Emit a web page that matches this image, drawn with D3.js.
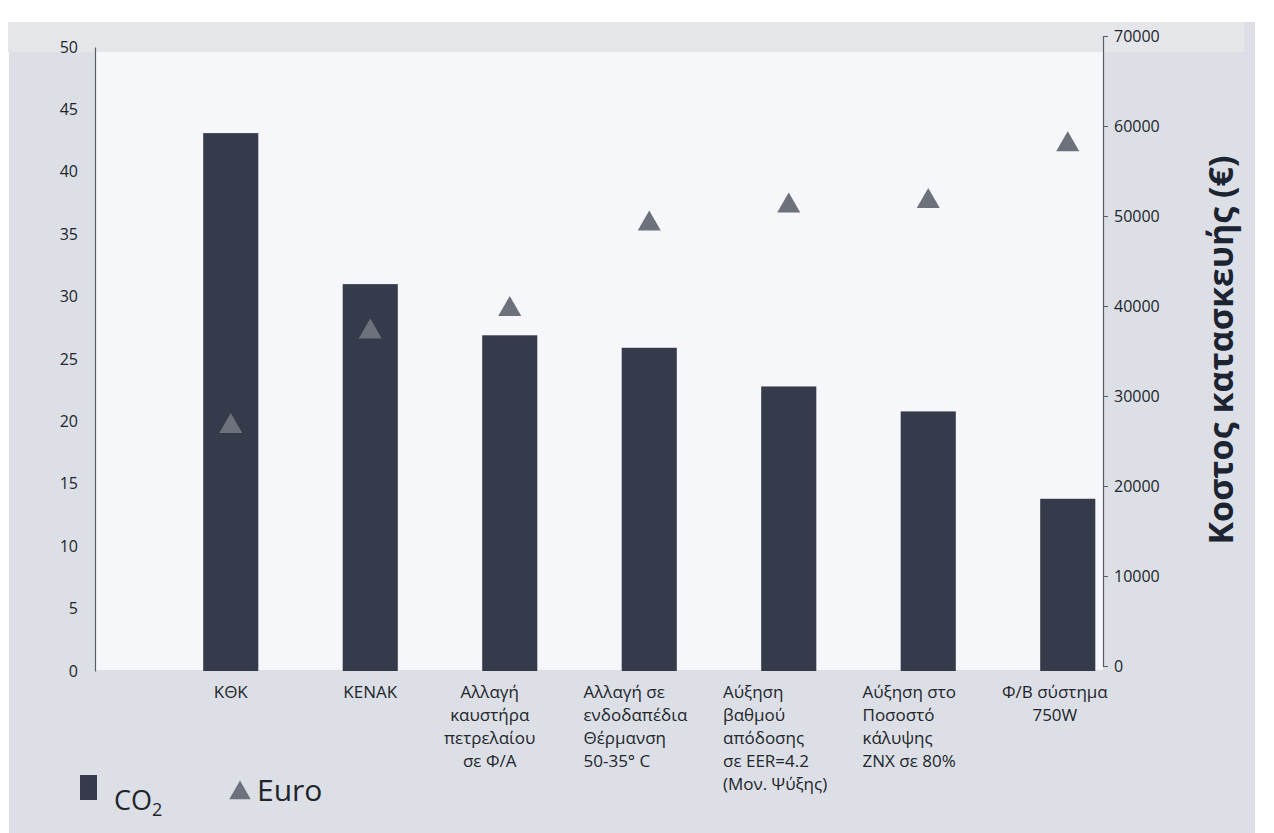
<!DOCTYPE html>
<html>
<head>
<meta charset="utf-8">
<script src="https://cdn.jsdelivr.net/npm/d3@7"></script>
<style>
  body { margin: 0; background: #ffffff; }
  svg { display: block; }
  text { font-family: "Open Sans", "Noto Sans", sans-serif; }
</style>
</head>
<body>
<svg id="chart" width="1274" height="833"></svg>
<script>
// Measures (categories) and their label lines
const categories = [
  "ΚΘΚ",
  "ΚΕΝΑΚ",
  "Αλλαγή καυστήρα πετρελαίου σε Φ/Α",
  "Αλλαγή σε ενδοδαπέδια Θέρμανση 50-35° C",
  "Αύξηση βαθμού απόδοσης σε EER=4.2 (Μον. Ψύξης)",
  "Αύξηση στο Ποσοστό κάλυψης ΖΝΧ σε 80%",
  "Φ/Β σύστημα 750W"
];
const categoryLines = [
  ["ΚΘΚ"],
  ["ΚΕΝΑΚ"],
  ["Αλλαγή", "καυστήρα", "πετρελαίου", "σε Φ/Α"],
  ["Αλλαγή σε", "ενδοδαπέδια", "Θέρμανση", "50-35° C"],
  ["Αύξηση", "βαθμού", "απόδοσης", "σε EER=4.2", "(Μον. Ψύξης)"],
  ["Αύξηση στο", "Ποσοστό", "κάλυψης", "ΖΝΧ  σε 80%"],
  ["Φ/Β σύστημα", "750W"]
];

// CO2 emissions (left axis) and construction cost in euro (right axis)
const co2Values = [43.1, 31.0, 26.9, 25.9, 22.8, 20.8, 13.8];
const euroValues = [27000, 37500, 40000, 49500, 51500, 52000, 58300];

const co2Ticks = [0, 5, 10, 15, 20, 25, 30, 35, 40, 45, 50];
const euroTicks = [0, 10000, 20000, 30000, 40000, 50000, 60000, 70000];

const seriesNames = ["CO", "Euro"];
const rightAxisTitle = "Κοστος κατασκευής (€)";

// ---------------------------------------------------------------
const svg = d3.select("#chart");
const W = 1274, H = 833;

const barColor = "#353b4b";
const markerColor = "#6c717b";
const textColor = "#22262c";
const axisColor = "#5a5e66";

// page, frame and plot background
svg.append("rect").attr("width", W).attr("height", H).attr("fill", "#ffffff");
svg.append("rect")
  .attr("x", 9).attr("y", 22).attr("width", 1246).attr("height", H - 22)
  .attr("fill", "#dcdfe5");
svg.append("rect")
  .attr("x", 8).attr("y", 22).attr("width", 1236).attr("height", 30)
  .attr("fill", "#e5e6ea");
const plot = { left: 96, right: 1103, top: 52, bottom: 670 };
svg.append("rect")
  .attr("x", plot.left).attr("y", plot.top)
  .attr("width", plot.right - plot.left).attr("height", plot.bottom - plot.top)
  .attr("fill", "#f6f7fa");

// scales
const x = d3.scaleBand().domain(categories).range([161, 1137.5]).padding(0);
const barW = x.bandwidth() * 0.395;
const yLeft = d3.scaleLinear().domain([0, 50]).range([671, 47]);
const yRight = d3.scaleLinear().domain([0, 70000]).range([666, 36]);

// bars (CO2)
svg.append("g").selectAll("rect")
  .data(categories)
  .join("rect")
  .attr("x", (d) => x(d) + x.bandwidth() / 2 - barW / 2)
  .attr("width", barW)
  .attr("y", (d, i) => yLeft(co2Values[i]))
  .attr("height", (d, i) => yLeft(0) - yLeft(co2Values[i]))
  .attr("fill", barColor);

// cost markers (triangles)
const triSize = 230;
const triH = Math.sqrt(triSize * 4 / Math.sqrt(3)) * Math.sqrt(3) / 2;
const tri = d3.symbol(d3.symbolTriangle, triSize);
svg.append("g").selectAll("path")
  .data(categories)
  .join("path")
  .attr("d", tri)
  .attr("transform", (d, i) =>
    `translate(${x(d) + x.bandwidth() / 2},${yRight(euroValues[i]) + triH / 6})`)
  .attr("fill", markerColor);

// left axis (no tick marks, labels only)
const leftAxis = d3.axisLeft(yLeft).tickValues(co2Ticks).tickSize(0).tickPadding(17);
const gl = svg.append("g").attr("transform", "translate(95,0)").call(leftAxis);
gl.select(".domain").attr("stroke", axisColor).attr("stroke-width", 1.2);
gl.selectAll("text")
  .attr("fill", textColor)
  .style("font-size", "16px")
  .style("font-family", "'Open Sans', sans-serif");

// right axis
const rightAxis = d3.axisRight(yRight)
  .tickValues(euroTicks)
  .tickFormat(d3.format("d"))
  .tickSize(5).tickSizeOuter(5).tickPadding(6);
const gr = svg.append("g").attr("transform", "translate(1103,0)").call(rightAxis);
gr.select(".domain").attr("stroke", axisColor).attr("stroke-width", 1.2);
gr.selectAll(".tick line").attr("stroke", axisColor);
gr.selectAll("text")
  .attr("fill", textColor)
  .style("font-size", "16px")
  .style("font-family", "'Open Sans', sans-serif");

// right axis title
svg.append("text")
  .attr("transform", "translate(1233,350) rotate(-90)")
  .attr("text-anchor", "middle")
  .attr("fill", "#1c2331")
  .style("font-size", "34px")
  .style("font-weight", "700")
  .text(rightAxisTitle);

// category labels: short names centred on the bar, wrapped names set as a block
// starting at the left edge of the category slot
const labelFont = 17;
const lineGap = 23;
const firstBaseline = 698;
const leftAlignedBlocks = new Set([3, 4, 5]);
const labelG = svg.append("g").style("font-size", labelFont + "px").attr("fill", textColor);
categories.forEach((c, i) => {
  const lines = categoryLines[i];
  const g = labelG.append("g");
  const texts = g.selectAll("text").data(lines).join("text")
    .attr("y", (d, j) => firstBaseline + j * lineGap)
    .text((d) => d);
  if (lines.length === 1) {
    texts.attr("x", x(c) + x.bandwidth() / 2).attr("text-anchor", "middle");
  } else {
    const widest = d3.max(texts.nodes(), (n) => n.getComputedTextLength());
    const left = x(c) + 4;
    if (leftAlignedBlocks.has(i)) {
      texts.attr("x", left).attr("text-anchor", "start");
    } else {
      texts.attr("x", left + widest / 2).attr("text-anchor", "middle");
    }
  }
});

// legend
const lg = svg.append("g");
lg.append("rect").attr("x", 80).attr("y", 775).attr("width", 17).attr("height", 25).attr("fill", barColor);
const co2Label = lg.append("text").attr("x", 114).attr("y", 810)
  .attr("fill", textColor).style("font-size", "27px");
co2Label.append("tspan").text(seriesNames[0]);
co2Label.append("tspan").attr("dy", 6).style("font-size", "18px").text("2");
lg.append("path")
  .attr("d", d3.symbol(d3.symbolTriangle, 200))
  .attr("transform", "translate(240,793)")
  .attr("fill", markerColor);
lg.append("text").attr("x", 257).attr("y", 801)
  .attr("fill", textColor).style("font-size", "30px")
  .text(seriesNames[1]);
</script>
</body>
</html>
